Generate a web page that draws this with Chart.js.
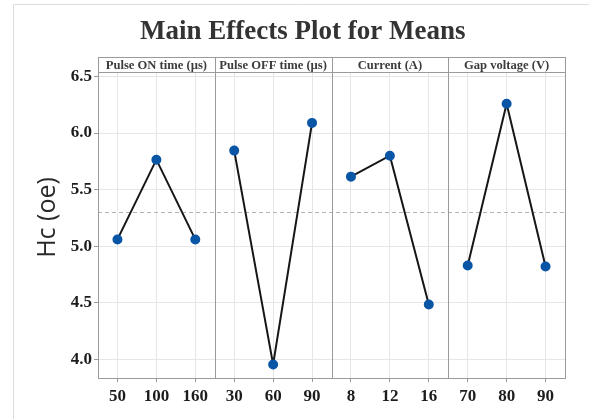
<!DOCTYPE html>
<html lang="en">
<head>
    <meta charset="UTF-8">
    <title>Main Effects Plot for Means</title>
    <script src="https://cdn.jsdelivr.net/npm/chart.js"></script>
    <style>
        html, body { margin: 0; padding: 0; background: #fff; }
        #wrap { width: 589px; height: 419px; }
    </style>
</head>
<body>
    <div id="wrap"><canvas id="mainEffects" width="589" height="419"></canvas></div>
    <script>
    // factor names and levels
    const factorNames = ['Pulse ON time (µs)', 'Pulse OFF time (µs)', 'Current (A)', 'Gap voltage (V)'];
    const pulseOnLevels = ['50', '100', '160'];
    const pulseOffLevels = ['30', '60', '90'];
    const currentLevels = ['8', '12', '16'];
    const gapVoltageLevels = ['70', '80', '90'];
    // mean Hc for each level
    const pulseOnMeans = [5.06, 5.765, 5.06];
    const pulseOffMeans = [5.845, 3.955, 6.09];
    const currentMeans = [5.615, 5.80, 4.485];
    const gapVoltageMeans = [4.83, 6.26, 4.82];
    const yTicks = [4.0, 4.5, 5.0, 5.5, 6.0, 6.5];

    const levelGroups = [pulseOnLevels, pulseOffLevels, currentLevels, gapVoltageLevels];
    const meanGroups = [pulseOnMeans, pulseOffMeans, currentMeans, gapVoltageMeans];
    const labels = levelGroups.flat();
    const allMeans = meanGroups.flat();
    const grandMean = allMeans.reduce((a, b) => a + b, 0) / allMeans.length;

    const frameColor = '#9a9a9a';
    const gridColor = '#e6e6e6';
    const serif = "'Liberation Serif', 'Times New Roman', serif";

    // one dataset per panel, padded with nulls so lines don't join panels
    let start = 0;
    const datasets = meanGroups.map((means, i) => {
        const data = labels.map(() => null);
        means.forEach((v, j) => { data[start + j] = v; });
        start += means.length;
        return {
            label: factorNames[i],
            data: data,
            borderColor: '#161616',
            borderWidth: 2,
            pointBackgroundColor: '#0a56a6',
            pointBorderColor: '#0a56a6',
            pointRadius: 4,
            pointHoverRadius: 4,
            spanGaps: false,
            tension: 0
        };
    });

    const panelDecor = {
        id: 'panelDecor',
        beforeDatasetsDraw(chart) {
            const ctx = chart.ctx;
            const {left, right, top, bottom} = chart.chartArea;
            const x = chart.scales.x, y = chart.scales.y;
            ctx.save();
            // grand mean reference line
            const my = Math.round(y.getPixelForValue(grandMean)) + 0.5;
            ctx.strokeStyle = '#b4b4b4';
            ctx.lineWidth = 1;
            ctx.setLineDash([4, 3]);
            ctx.beginPath();
            ctx.moveTo(left, my);
            ctx.lineTo(right, my);
            ctx.stroke();
            ctx.setLineDash([]);
            // panel dividers
            ctx.strokeStyle = frameColor;
            let idx = 0;
            levelGroups.forEach((g, i) => {
                idx += g.length;
                if (i === levelGroups.length - 1) return;
                const dx = Math.round((x.getPixelForTick(idx - 1) + x.getPixelForTick(idx)) / 2) + 0.5;
                ctx.beginPath();
                ctx.moveTo(dx, top - 15);
                ctx.lineTo(dx, bottom);
                ctx.stroke();
            });
            ctx.restore();
        },
        afterDraw(chart) {
            const ctx = chart.ctx;
            const {left, right, top, bottom} = chart.chartArea;
            const x = chart.scales.x;
            ctx.save();
            // outer light frame
            ctx.strokeStyle = '#dcdcdc';
            ctx.lineWidth = 1;
            ctx.beginPath();
            ctx.moveTo(13.5, chart.height);
            ctx.lineTo(13.5, 4.5);
            ctx.lineTo(chart.width, 4.5);
            ctx.stroke();
            // header strip and frame top/right
            ctx.strokeStyle = frameColor;
            const hTop = top - 15;
            ctx.beginPath();
            ctx.moveTo(left, hTop + 0.5);
            ctx.lineTo(right + 0.5, hTop + 0.5);
            ctx.moveTo(left, top + 0.5);
            ctx.lineTo(right, top + 0.5);
            ctx.moveTo(left + 0.5, hTop);
            ctx.lineTo(left + 0.5, bottom);
            ctx.moveTo(right + 0.5, hTop);
            ctx.lineTo(right + 0.5, bottom);
            ctx.stroke();
            // panel titles
            ctx.fillStyle = '#3c3c3c';
            ctx.font = 'bold 12.6px ' + serif;
            ctx.textAlign = 'center';
            ctx.textBaseline = 'alphabetic';
            let idx = 0;
            levelGroups.forEach((g, i) => {
                const cx = (x.getPixelForTick(idx) + x.getPixelForTick(idx + g.length - 1)) / 2;
                ctx.fillText(factorNames[i], cx, top - 3);
                idx += g.length;
            });
            // main title
            ctx.fillStyle = '#333';
            ctx.font = 'bold 27px ' + serif;
            ctx.fillText('Main Effects Plot for Means', 302.7, 39);
            // y axis title
            ctx.translate(55, 217.5);
            ctx.rotate(-Math.PI / 2);
            ctx.font = "500 25px 'Open Sans', 'DejaVu Sans', sans-serif";
            ctx.fillStyle = '#2a2a2a';
            ctx.fillText('Hc (oe)', 0, 0);
            ctx.restore();
        }
    };

    new Chart(document.getElementById('mainEffects').getContext('2d'), {
        type: 'line',
        data: { labels: labels, datasets: datasets },
        options: {
            responsive: false,
            animation: false,
            layout: { padding: { top: 72, right: 24, left: 0, bottom: 0 } },
            plugins: {
                legend: { display: false },
                title: { display: false },
                tooltip: { enabled: false }
            },
            scales: {
                x: {
                    type: 'category',
                    offset: true,
                    grid: { color: gridColor, tickColor: frameColor, tickLength: 4 },
                    border: { color: frameColor },
                    ticks: {
                        autoSkip: false,
                        maxRotation: 0,
                        padding: 4,
                        color: '#1c1c1c',
                        font: { family: serif, size: 17, weight: 'bold' }
                    },
                    afterFit(scale) { scale.height = 41; }
                },
                y: {
                    min: 3.835,
                    max: 6.54,
                    grid: { color: gridColor, tickColor: frameColor, tickLength: 4 },
                    border: { color: frameColor },
                    afterBuildTicks(scale) { scale.ticks = yTicks.map(v => ({ value: v })); },
                    ticks: {
                        padding: 2,
                        color: '#1c1c1c',
                        font: { family: serif, size: 17, weight: 'bold' },
                        callback: v => Number(v).toFixed(1)
                    },
                    afterFit(scale) { scale.width = 98; }
                }
            }
        },
        plugins: [panelDecor]
    });
    </script>
</body>
</html>
